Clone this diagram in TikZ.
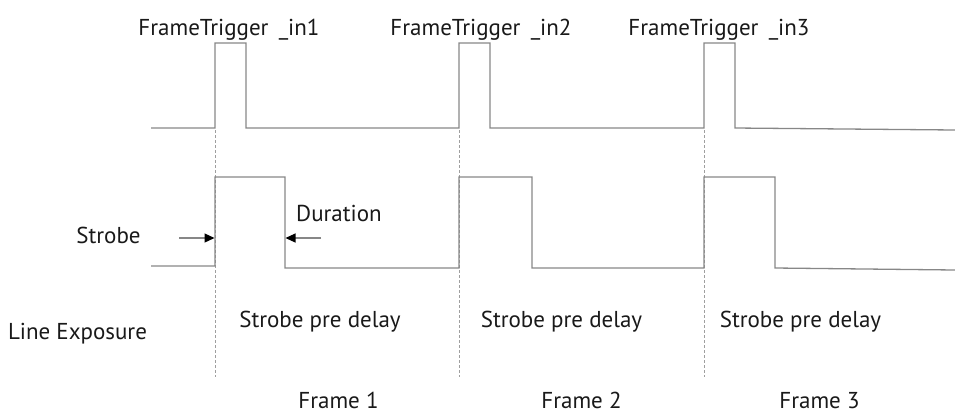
\documentclass[tikz,border=0pt]{standalone}
\usepackage{fontspec}
\setmainfont{PT Sans}
\usetikzlibrary{arrows.meta}
\definecolor{sig}{RGB}{135,135,135}
\tikzset{
  signal/.style={draw=sig, line width=1.3pt},
  guide/.style={draw=sig!80, line width=0.8pt, dash pattern=on 3pt off 2pt},
  lbl/.style={inner sep=0pt, anchor=base, text=black!90, font=\fontsize{23}{26}\selectfont},
  durarrow/.style={draw=sig, line width=1.2pt, -{Triangle[length=10pt,width=9pt,color=black]}}
}
\begin{document}
\begin{tikzpicture}[x=1pt,y=-1pt]
\useasboundingbox (0,0) rectangle (955,413);
% guides
\foreach \gx/\gn in {215/g1,459/g2,704/g3}{
  \coordinate (\gn t) at (\gx,130);
  \coordinate (\gn b) at (\gx,377);
  \draw[guide] (\gn t) -- (\gn b);
}
% FrameTrigger signal
\draw[signal] (151,128) -- (215,128) -- (215,43) -- (246,43) -- (246,128)
  -- (459,128) -- (459,43) -- (490,43) -- (490,128)
  -- (704,128) -- (704,43) -- (735,43) -- (735,128) -- (955,130);
% Strobe signal
\draw[signal] (151,266) -- (215,266) -- (215,177) -- (285,177) -- (285,268)
  -- (459,268) -- (459,177) -- (532,177) -- (532,268)
  -- (704,268) -- (704,177) -- (775,177) -- (775,268) -- (955,270);
% labels
\node[lbl] (ft1) at (229,35) {FrameTrigger\hspace{0.45em}\_in1};
\node[lbl] (ft2) at (481,35) {FrameTrigger\hspace{0.45em}\_in2};
\node[lbl] (ft3) at (719,35) {FrameTrigger\hspace{0.45em}\_in3};
\node[lbl] (dur) at (339,221) {Duration};
\node[lbl] (strobe) at (108.5,243) {Strobe};
\node[lbl] (le) at (77.5,339) {Line Exposure};
\node[lbl] (spd1) at (320,327) {Strobe pre delay};
\node[lbl] (spd2) at (561.5,327) {Strobe pre delay};
\node[lbl] (spd3) at (800.5,327) {Strobe pre delay};
\node[lbl] (fr1) at (338.5,408) {Frame 1};
\node[lbl] (fr2) at (581.5,408) {Frame 2};
\node[lbl] (fr3) at (819.5,408) {Frame 3};
% arrows
\coordinate (a1s) at (179,238);
\coordinate (a1e) at (214.5,238);
\coordinate (a2s) at (321,238);
\coordinate (a2e) at (285.5,238);
\draw[durarrow] (a1s) -- (a1e);
\draw[durarrow] (a2s) -- (a2e);
\end{tikzpicture}
\end{document}
